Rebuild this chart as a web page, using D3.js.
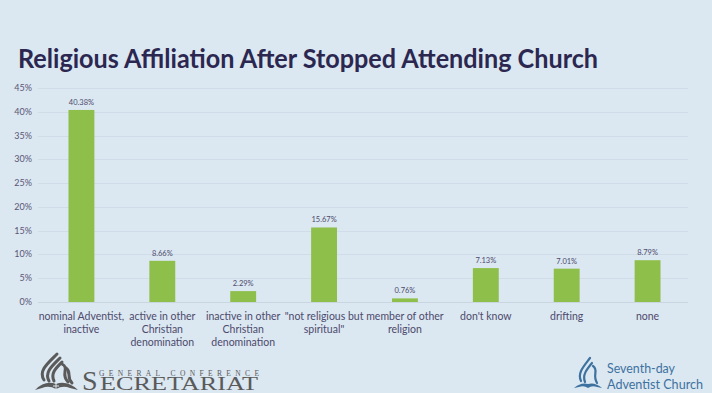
<!DOCTYPE html>
<html>
<head>
<meta charset="utf-8">
<script src="https://cdn.jsdelivr.net/npm/d3@7"></script>
<style>
  html, body { margin: 0; padding: 0; background: #dbe7f1; }
  svg { display: block; }
</style>
</head>
<body>
<div id="chart"></div>
<script>
// data
const categories = [
  ['nominal Adventist,', 'inactive'],
  ['active in other', 'Christian', 'denomination'],
  ['inactive in other', 'Christian', 'denomination'],
  ['"not religious but', 'spiritual"'],
  ['member of other', 'religion'],
  ["don't know"],
  ['drifting'],
  ['none']
];
const values = [40.38, 8.66, 2.29, 15.67, 0.76, 7.13, 7.01, 8.79];
const yTicks = [0, 5, 10, 15, 20, 25, 30, 35, 40, 45];

const W = 712, H = 393;
const margin = { top: 88, left: 41, right: 24, bottom: 91 };
const font = 'Lato, Open Sans, sans-serif';

const svg = d3.select('#chart').append('svg')
  .attr('width', W)
  .attr('height', H);

svg.append('rect').attr('width', W).attr('height', H).attr('fill', '#dbe7f1');

// title
svg.append('text')
  .attr('x', 18)
  .attr('y', 68)
  .attr('font-family', font)
  .attr('font-weight', 'bold')
  .attr('font-size', 27)
  .attr('fill', '#2b2750')
  .attr('textLength', 580)
  .attr('lengthAdjust', 'spacingAndGlyphs')
  .text('Religious Affiliation After Stopped Attending Church');

const x = d3.scaleBand()
  .domain(d3.range(values.length))
  .range([margin.left, W - margin.right])
  .paddingInner(0.68)
  .paddingOuter(0.34);

const y = d3.scaleLinear()
  .domain([0, 45])
  .range([H - margin.bottom, margin.top]);

// gridlines + y labels
const g = svg.append('g');
g.selectAll('line.grid')
  .data(yTicks)
  .join('line')
  .attr('class', 'grid')
  .attr('x1', margin.left - 3)
  .attr('x2', W - margin.right)
  .attr('y1', d => Math.round(y(d)) + 0.5)
  .attr('y2', d => Math.round(y(d)) + 0.5)
  .attr('stroke', d => d === 0 ? '#c9d5df' : '#d0dde8')
  .attr('stroke-width', 1);

g.selectAll('text.ytick')
  .data(yTicks)
  .join('text')
  .attr('class', 'ytick')
  .attr('x', 32)
  .attr('y', d => y(d) + 3)
  .attr('text-anchor', 'end')
  .attr('font-family', font)
  .attr('font-size', 9)
  .attr('fill', '#5a5676')
  .text(d => d + '%');

// bars
g.selectAll('rect.bar')
  .data(values)
  .join('rect')
  .attr('class', 'bar')
  .attr('x', (d, i) => x(i))
  .attr('width', x.bandwidth())
  .attr('y', d => y(d))
  .attr('height', d => y(0) - y(d))
  .attr('fill', '#8fbf4b');

g.selectAll('text.val')
  .data(values)
  .join('text')
  .attr('class', 'val')
  .attr('x', (d, i) => x(i) + x.bandwidth() / 2)
  .attr('y', d => y(d) - 5)
  .attr('text-anchor', 'middle')
  .attr('font-family', font)
  .attr('font-size', 7.5)
  .attr('fill', '#4d4a6c')
  .text(d => d.toFixed(2) + '%');

// category labels
const cat = g.selectAll('text.cat')
  .data(categories)
  .join('text')
  .attr('class', 'cat')
  .attr('text-anchor', 'middle')
  .attr('font-family', font)
  .attr('font-size', 10.5)
  .attr('fill', '#4d4a6c');
cat.each(function(lines, i) {
  d3.select(this).selectAll('tspan')
    .data(lines)
    .join('tspan')
    .attr('x', x(i) + x.bandwidth() / 2)
    .attr('y', (d, j) => 320 + j * 12.8)
    .text(d => d);
});

// left logo: General Conference Secretariat
const left = svg.append('g').attr('fill', '#5a5a5a').attr('stroke', 'none');
left.append('path')
  .attr('d', 'M35,390 Q45,380 56,384 Q67,380 78,390 L70,388 Q63,385 56,389 Q49,385 42,388 Z');
const flames = left.append('g').attr('fill', 'none').attr('stroke', '#5a5a5a').attr('stroke-width', 3).attr('stroke-linecap', 'round');
flames.append('path').attr('d', 'M44,380 C38,371 48,363 57,354');
flames.append('path').attr('d', 'M49,381 C44,372 53,365 60,358');
flames.append('path').attr('d', 'M54,381 C50,373 57,367 62,362');
flames.append('path').attr('d', 'M62,364 C70,368 60,374 68,382');
flames.append('path').attr('d', 'M66,368 C72,372 66,377 72,383');
left.append('path')
  .attr('d', 'M56,383 L56,391 M53,386 L59,386')
  .attr('stroke', '#dbe7f1').attr('stroke-width', 1);
left.append('text')
  .attr('x', 82).attr('y', 390)
  .attr('font-family', 'Liberation Serif, serif')
  .attr('font-size', 28)
  .text('S');
left.append('text')
  .attr('x', 99).attr('y', 376)
  .attr('font-family', 'Liberation Serif, serif')
  .attr('font-size', 7.5)
  .attr('textLength', 160).attr('lengthAdjust', 'spacing')
  .text('GENERAL CONFERENCE');
left.append('text')
  .attr('x', 100).attr('y', 390)
  .attr('font-family', 'Liberation Serif, serif')
  .attr('font-size', 18.5)
  .attr('textLength', 158).attr('lengthAdjust', 'spacingAndGlyphs')
  .text('ECRETARIAT');

// right logo: Seventh-day Adventist Church
const right = svg.append('g').attr('fill', '#3d72a0');
right.append('path')
  .attr('d', 'M574,388 Q581,382 588,384 Q595,382 602,388 L597,387 Q592,385 588,388 Q584,385 579,387 Z');
const rf = right.append('g').attr('fill', 'none').attr('stroke', '#3d72a0').attr('stroke-width', 2.2).attr('stroke-linecap', 'round');
rf.append('path').attr('d', 'M581,381 C577,373 584,366 590,358');
rf.append('path').attr('d', 'M585,382 C582,375 587,369 592,363');
rf.append('path').attr('d', 'M593,366 C599,370 592,375 597,383');
right.append('text')
  .attr('x', 607).attr('y', 373)
  .attr('font-family', font)
  .attr('font-size', 13.5)
  .attr('textLength', 68).attr('lengthAdjust', 'spacingAndGlyphs')
  .text('Seventh-day');
right.append('text')
  .attr('x', 607).attr('y', 389)
  .attr('font-family', font)
  .attr('font-size', 13.5)
  .attr('textLength', 96).attr('lengthAdjust', 'spacingAndGlyphs')
  .text('Adventist Church');
</script>
</body>
</html>
